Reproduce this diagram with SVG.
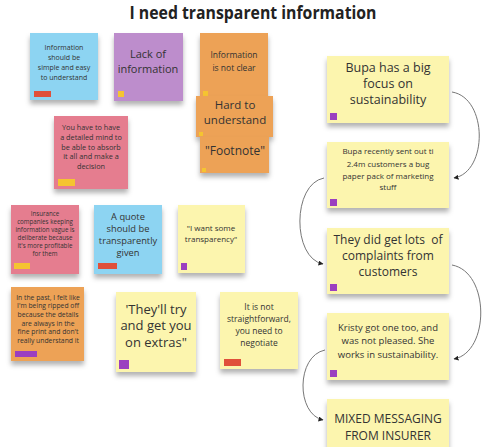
<svg xmlns="http://www.w3.org/2000/svg" width="501" height="447" viewBox="0 0 501 447">
<defs>
<filter id="sh" x="-20%" y="-20%" width="140%" height="150%">
<feDropShadow dx="0" dy="4" stdDeviation="2.5" flood-color="#000" flood-opacity="0.3"/>
</filter>
<marker id="ah" viewBox="0 0 10 10" refX="9" refY="5" markerWidth="5" markerHeight="5" orient="auto">
<path d="M0,0 L10,5 L0,10 z" fill="#222"/>
</marker>
<style>
text{font-family:"Open Sans","Noto Sans","DejaVu Sans",sans-serif;fill:#333;text-anchor:middle}
.title{font-weight:bold;font-size:17px;fill:#222}
.blue{fill:#8dd4f2}
.purple{fill:#bd8dcc}
.orange{fill:#eda257}
.pink{fill:#e57d8f}
.yellow{fill:#fcf5ae}
.n{filter:url(#sh)}
.bred{fill:#e0503a}
.byel{fill:#f5c431}
.bpur{fill:#9b3fc0}
.conn{fill:none;stroke:#777;stroke-width:1;marker-end:url(#ah)}
</style>
</defs>
<text class="title" x="253" y="19" textLength="247" lengthAdjust="spacingAndGlyphs">I need transparent information</text>

<g id="n-blue1">
<rect class="n blue" x="30" y="33" width="68" height="67"/>
<rect class="bred" x="34" y="91" width="17" height="6"/>
<text font-size="7"><tspan x="64" y="49.5">Information</tspan><tspan x="64" y="59.5">should be</tspan><tspan x="64" y="69.5">simple and easy</tspan><tspan x="64" y="79.5">to understand</tspan></text>
</g>
<g id="n-lack">
<rect class="n purple" x="114" y="33" width="69" height="68"/>
<rect class="byel" x="118" y="91" width="6" height="6"/>
<text font-size="11"><tspan x="148" y="58">Lack of</tspan><tspan x="148" y="73">information</tspan></text>
</g>
<g id="n-notclear">
<rect class="n orange" x="200" y="33" width="68" height="67"/>
<rect class="byel" x="203" y="91" width="5" height="5"/>
<text font-size="8.5"><tspan x="234" y="58">Information</tspan><tspan x="234" y="71">is not clear</tspan></text>
</g>
<g id="n-hard">
<rect class="n orange" x="196" y="96" width="77" height="41"/>
<rect class="byel" x="199" y="132" width="4" height="4"/>
<text font-size="11.5"><tspan x="235" y="109">Hard to</tspan><tspan x="235" y="124">understand</tspan></text>
</g>
<g id="n-footnote">
<rect class="n orange" x="200" y="137" width="69" height="36"/>
<rect class="byel" x="202" y="168" width="4" height="4"/>
<text font-size="12" x="235" y="155">"Footnote"</text>
</g>
<g id="n-detailed">
<rect class="n pink" x="54" y="116" width="74" height="73"/>
<rect class="byel" x="58" y="179" width="17" height="7"/>
<text font-size="7.3"><tspan x="91" y="130">You have to have</tspan><tspan x="91" y="140">a detailed mind to</tspan><tspan x="91" y="149.5">be able to absorb</tspan><tspan x="91" y="159">it all and make a</tspan><tspan x="91" y="169">decision</tspan></text>
</g>
<g id="n-insurance">
<rect class="n pink" x="11" y="205" width="68" height="69"/>
<rect class="byel" x="14" y="263" width="16" height="6"/>
<text font-size="6.2"><tspan x="45" y="216">Insurance</tspan><tspan x="45" y="224">companies keeping</tspan><tspan x="45" y="232">information vague is</tspan><tspan x="45" y="240">deliberate because</tspan><tspan x="45" y="248">it's more profitable</tspan><tspan x="45" y="256">for them</tspan></text>
</g>
<g id="n-quote">
<rect class="n blue" x="94" y="205" width="68" height="69"/>
<rect class="bred" x="98" y="263" width="19" height="6"/>
<text font-size="9.3"><tspan x="128" y="219.5">A quote</tspan><tspan x="128" y="231.5">should be</tspan><tspan x="128" y="243.5">transparently</tspan><tspan x="128" y="255.5">given</tspan></text>
</g>
<g id="n-iwant">
<rect class="n yellow" x="178" y="205" width="67" height="68"/>
<rect class="bpur" x="181" y="263" width="6" height="7"/>
<text font-size="8"><tspan x="211" y="231">"I want some</tspan><tspan x="211" y="242">transparency"</tspan></text>
</g>
<g id="n-past">
<rect class="n orange" x="11" y="287" width="73" height="74"/>
<rect class="bpur" x="15" y="351" width="22" height="6"/>
<text font-size="6.8"><tspan x="48" y="299.5">In the past, I felt like</tspan><tspan x="48" y="308.2">I'm being ripped off</tspan><tspan x="48" y="316.9">because the details</tspan><tspan x="48" y="325.6">are always in the</tspan><tspan x="48" y="334.3">fine print and don't</tspan><tspan x="48" y="343">really understand it</tspan></text>
</g>
<g id="n-extras">
<rect class="n yellow" x="116" y="292" width="80" height="80"/>
<rect class="bpur" x="119" y="360" width="10" height="9"/>
<text font-size="13"><tspan x="156" y="313.5">'They'll try</tspan><tspan x="156" y="330">and get you</tspan><tspan x="156" y="346.5">on extras"</tspan></text>
</g>
<g id="n-negotiate">
<rect class="n yellow" x="220" y="292" width="78" height="77"/>
<rect class="bred" x="224" y="359" width="17" height="7"/>
<text font-size="8.5"><tspan x="259" y="310">It is not</tspan><tspan x="259" y="322">straightforward,</tspan><tspan x="259" y="334">you need to</tspan><tspan x="259" y="345.5">negotiate</tspan></text>
</g>
<g id="n-bupa1">
<rect class="n yellow" x="327" y="56" width="122" height="67"/>
<rect class="bpur" x="330" y="113" width="7" height="7"/>
<text font-size="12.5"><tspan x="388" y="71.5">Bupa has a big</tspan><tspan x="388" y="87.5">focus on</tspan><tspan x="388" y="103.5">sustainability</tspan></text>
</g>
<g id="n-bupa2">
<rect class="n yellow" x="327" y="142" width="122" height="66"/>
<rect class="bpur" x="330" y="199" width="7" height="7"/>
<text font-size="8"><tspan x="388" y="154">Bupa recently sent out ti</tspan><tspan x="388" y="166.5">2.4m customers a bug</tspan><tspan x="388" y="178.5">paper pack of marketing</tspan><tspan x="388" y="190">stuff</tspan></text>
</g>
<g id="n-complaints">
<rect class="n yellow" x="327" y="228" width="122" height="66"/>
<rect class="bpur" x="330" y="284" width="7" height="7"/>
<text font-size="12"><tspan x="388" y="243.5" xml:space="preserve">They did get lots  of</tspan><tspan x="388" y="259.5">complaints from</tspan><tspan x="388" y="275.5">customers</tspan></text>
</g>
<g id="n-kristy">
<rect class="n yellow" x="327" y="313" width="122" height="67"/>
<rect class="bpur" x="330" y="370" width="7" height="7"/>
<text font-size="9.5"><tspan x="388" y="330.5">Kristy got one too, and</tspan><tspan x="388" y="344">was not pleased. She</tspan><tspan x="388" y="357.5">works in sustainability.</tspan></text>
</g>
<g id="n-mixed">
<rect class="n yellow" x="327" y="399" width="122" height="60"/>
<text font-size="12"><tspan x="388" y="422.5">MIXED MESSAGING</tspan><tspan x="388" y="439.5">FROM INSURER</tspan></text>
</g>

<g id="connectors">
<path class="conn" d="M452,92 C488,98 488,172 454,178"/>
<path class="conn" d="M324,178 C292,184 292,258 323,264"/>
<path class="conn" d="M452,265 C490,272 490,352 454,359"/>
<path class="conn" d="M325,350 C296,356 296,414 323,420"/>
</g>
</svg>
